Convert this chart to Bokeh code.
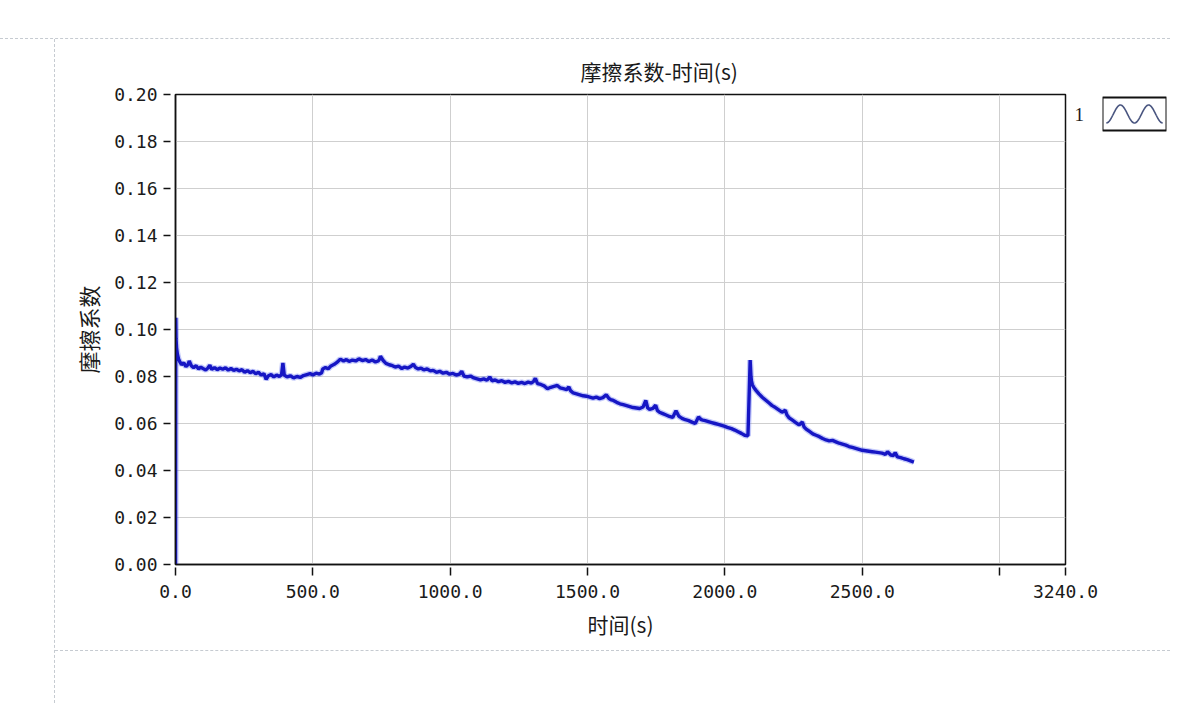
import numpy as np
from bokeh.plotting import figure
from bokeh.models import Range1d, FixedTicker, NumeralTickFormatter, LinearAxis, Spacer, BoxAnnotation
from bokeh.layouts import row, column
from bokeh.embed import file_html
from bokeh.resources import INLINE

# ---------------- data ----------------
time_s = [
    0, 1, 2, 4, 7, 11, 16, 22, 30, 38, 45, 50, 58, 66, 75, 84, 92, 100, 110, 118, 125, 132,
    142, 152, 162, 172, 182, 192, 202, 212, 222, 232, 242, 252, 262, 272, 282, 292, 302,
    312, 322, 330, 338, 348, 358, 368, 378, 386, 391, 396, 406, 418, 430, 442, 454, 466,
    478, 490, 500, 512, 524, 532, 536, 546, 556, 566, 578, 590, 600, 612, 622, 632, 644,
    656, 668, 680, 692, 704, 716, 728, 738, 742, 746, 756, 766, 778, 790, 800, 812, 824,
    834, 846, 858, 866, 874, 884, 894, 904, 916, 928, 938, 950, 962, 974, 986, 998, 1010,
    1022, 1034, 1042, 1050, 1062, 1074, 1086, 1098, 1110, 1122, 1134, 1144, 1152, 1164,
    1176, 1188, 1200, 1212, 1224, 1236, 1248, 1260, 1272, 1284, 1296, 1304, 1310, 1318,
    1330, 1342, 1354, 1366, 1378, 1390, 1400, 1412, 1424, 1432, 1438, 1448, 1460, 1472,
    1484, 1496, 1508, 1520, 1532, 1544, 1556, 1568, 1578, 1584, 1594, 1606, 1618, 1630,
    1642, 1654, 1666, 1678, 1690, 1702, 1712, 1719, 1726, 1738, 1748, 1754, 1762, 1774,
    1786, 1798, 1810, 1822, 1832, 1836, 1844, 1856, 1868, 1880, 1892, 1904, 1914, 1920,
    1928, 1940, 1952, 1964, 1976, 1988, 2000, 2012, 2024, 2036, 2048, 2060, 2072, 2084,
    2092, 2095, 2097, 2100, 2106, 2114, 2124, 2136, 2148, 2160, 2172, 2184, 2196, 2208,
    2220, 2226, 2234, 2246, 2258, 2270, 2282, 2288, 2296, 2308, 2320, 2332, 2344, 2356,
    2368, 2380, 2392, 2404, 2416, 2428, 2440, 2452, 2464, 2476, 2488, 2500, 2512, 2524,
    2536, 2548, 2560, 2572, 2580, 2584, 2592, 2604, 2614, 2620, 2628, 2640, 2652, 2664,
    2676, 2688,
]
friction = [
    0.0000, 0.1050, 0.0960, 0.0920, 0.0895, 0.0875, 0.0862, 0.0850, 0.0858, 0.0842, 0.0850,
    0.0866, 0.0845, 0.0838, 0.0846, 0.0832, 0.0840, 0.0834, 0.0828, 0.0836, 0.0848, 0.0830,
    0.0838, 0.0829, 0.0836, 0.0831, 0.0837, 0.0827, 0.0834, 0.0826, 0.0831, 0.0824, 0.0829,
    0.0818, 0.0825, 0.0816, 0.0822, 0.0812, 0.0818, 0.0806, 0.0812, 0.0788, 0.0803, 0.0808,
    0.0798, 0.0806, 0.0800, 0.0808, 0.0858, 0.0806, 0.0798, 0.0803, 0.0794, 0.0800, 0.0796,
    0.0804, 0.0808, 0.0812, 0.0807, 0.0814, 0.0810, 0.0816, 0.0832, 0.0838, 0.0833, 0.0845,
    0.0852, 0.0862, 0.0874, 0.0866, 0.0872, 0.0864, 0.0870, 0.0866, 0.0875, 0.0868, 0.0872,
    0.0864, 0.0870, 0.0862, 0.0866, 0.0872, 0.0886, 0.0868, 0.0856, 0.0850, 0.0846, 0.0840,
    0.0844, 0.0834, 0.0840, 0.0836, 0.0844, 0.0852, 0.0838, 0.0832, 0.0836, 0.0828, 0.0832,
    0.0824, 0.0826, 0.0818, 0.0822, 0.0814, 0.0818, 0.0810, 0.0813, 0.0806, 0.0810, 0.0822,
    0.0802, 0.0798, 0.0802, 0.0794, 0.0790, 0.0786, 0.0790, 0.0784, 0.0798, 0.0782, 0.0785,
    0.0778, 0.0782, 0.0775, 0.0779, 0.0773, 0.0777, 0.0771, 0.0775, 0.0770, 0.0776, 0.0772,
    0.0780, 0.0792, 0.0770, 0.0766, 0.0760, 0.0748, 0.0754, 0.0758, 0.0762, 0.0752, 0.0748,
    0.0744, 0.0756, 0.0740, 0.0730, 0.0726, 0.0722, 0.0718, 0.0716, 0.0712, 0.0708, 0.0712,
    0.0706, 0.0710, 0.0722, 0.0706, 0.0702, 0.0698, 0.0690, 0.0684, 0.0680, 0.0676, 0.0672,
    0.0668, 0.0666, 0.0664, 0.0670, 0.0698, 0.0666, 0.0660, 0.0664, 0.0678, 0.0656, 0.0648,
    0.0642, 0.0636, 0.0630, 0.0626, 0.0654, 0.0632, 0.0628, 0.0622, 0.0616, 0.0612, 0.0606,
    0.0600, 0.0628, 0.0616, 0.0614, 0.0612, 0.0608, 0.0604, 0.0600, 0.0596, 0.0592, 0.0588,
    0.0582, 0.0578, 0.0572, 0.0565, 0.0558, 0.0550, 0.0548, 0.0870, 0.0800, 0.0780, 0.0765,
    0.0752, 0.0740, 0.0726, 0.0712, 0.0700, 0.0688, 0.0676, 0.0668, 0.0658, 0.0648, 0.0656,
    0.0636, 0.0624, 0.0614, 0.0604, 0.0594, 0.0606, 0.0586, 0.0576, 0.0566, 0.0556, 0.0550,
    0.0544, 0.0536, 0.0530, 0.0526, 0.0528, 0.0522, 0.0516, 0.0512, 0.0508, 0.0502, 0.0498,
    0.0494, 0.0490, 0.0486, 0.0484, 0.0482, 0.0480, 0.0478, 0.0476, 0.0474, 0.0471, 0.0468,
    0.0480, 0.0466, 0.0464, 0.0476, 0.0458, 0.0455, 0.0450, 0.0446, 0.0441, 0.0436,
]

x_ticks = [0, 500, 1000, 1500, 2000, 2500, 3000, 3240]
y_ticks = [0.00, 0.02, 0.04, 0.06, 0.08, 0.10, 0.12, 0.14, 0.16, 0.18, 0.20]

title_text = "摩擦系数-时间(s)"
x_label = "时间(s)"
y_label = "摩擦系数"
legend_label = "1"
legend_label_level = 0.1915

mono = "DejaVu Sans Mono"
cjk = "Noto Sans CJK SC"
dash_css = "1px dashed #c6cbd1"

# ---------------- main figure ----------------
p = figure(width=1045, height=611, output_backend="svg", toolbar_location=None,
           x_range=Range1d(0, 3240), y_range=Range1d(0, 0.20),
           min_border_left=120, min_border_right=35, min_border_top=55, min_border_bottom=86)
p.border_fill_color = "white"
p.background_fill_color = "white"
p.outline_line_color = "#111111"
p.outline_line_width = 1.5

p.title.text = title_text
p.title.align = "left"
p.title.offset = 405
p.title.standoff = 18
p.title.text_font = cjk
p.title.text_font_size = "21px"
p.title.text_font_style = "normal"
p.title.text_color = "#1a1a1a"

p.xaxis.ticker = FixedTicker(ticks=x_ticks)
p.xaxis.formatter = NumeralTickFormatter(format="0.0")
p.xaxis.major_label_overrides = {3000: ""}
p.yaxis.ticker = FixedTicker(ticks=y_ticks)
p.yaxis.formatter = NumeralTickFormatter(format="0.00")

for ax in (p.xaxis[0], p.yaxis[0]):
    ax.axis_line_color = "#111111"
    ax.axis_line_width = 1.5
    ax.major_tick_line_color = "#111111"
    ax.major_tick_line_width = 1.5
    ax.minor_tick_line_color = None
    ax.major_label_text_font = mono
    ax.major_label_text_font_size = "18px"
    ax.major_label_text_color = "#1a1a1a"
    ax.axis_label_text_font = cjk
    ax.axis_label_text_font_style = "normal"
    ax.axis_label_text_color = "#1a1a1a"

p.xaxis.major_tick_in = -3
p.xaxis.major_tick_out = 11
p.xaxis.major_label_standoff = 9
p.xaxis.axis_label = x_label
p.xaxis.axis_label_text_font_size = "21px"
p.xaxis.axis_label_standoff = 8

p.yaxis.major_tick_in = -5
p.yaxis.major_tick_out = 12
p.yaxis.major_label_standoff = 6
p.yaxis.axis_label = y_label
p.yaxis.axis_label_text_font_size = "22px"
p.yaxis.axis_label_standoff = 7

# right-hand axis carrying the legend number "1"
rax = LinearAxis(ticker=FixedTicker(ticks=[legend_label_level]),
                 major_label_overrides={legend_label_level: legend_label},
                 axis_line_color=None, major_tick_line_color=None, minor_tick_line_color=None,
                 major_label_standoff=3, major_label_text_font="Liberation Serif",
                 major_label_text_font_size="19px", major_label_text_color="#1a1a1a")
p.add_layout(rax, "right")

p.xgrid.grid_line_color = "#cfcfcf"
p.ygrid.grid_line_color = "#cfcfcf"

# data line: soft halo + blue core
p.line(time_s, friction, line_color="#5566f0", line_width=6, line_alpha=0.35)
p.line(time_s, friction, line_color="#1616c4", line_width=3.4)

# ---------------- legend icon (boxed wave) ----------------
# same borders as the main figure so that the aligned frames agree; units = pixels from frame bottom
leg = figure(width=70, height=611, output_backend="svg", toolbar_location=None,
             x_range=Range1d(0, 1), y_range=Range1d(0, 470),
             min_border_left=2, min_border_right=4, min_border_top=55, min_border_bottom=86)
leg.axis.visible = False
leg.grid.visible = False
leg.title.visible = False
leg.border_fill_color = "white"
leg.background_fill_color = "white"
leg.outline_line_color = None
leg.add_layout(BoxAnnotation(left=0, right=1, bottom=434, top=467, fill_alpha=0,
                             line_color="#111111", line_alpha=1.0, line_width=2))
icon_x = np.linspace(0.06, 0.94, 80)
icon_y = 450.5 - 9 * np.cos((icon_x - 0.06) / 0.44 * 2 * np.pi)
leg.line(icon_x, icon_y, line_color="#4a5680", line_width=1.6)

# ---------------- page frame (dashed rules) ----------------
plot_block = column(row(p, leg), Spacer(width=1115, height=53, styles={"border-top": dash_css}),
                    styles={"border-left": dash_css})
body = row(Spacer(width=54, height=665), plot_block, styles={"border-top": dash_css})
page = column(Spacer(width=1170, height=38), body)

open("out.html", "w").write(file_html(page, INLINE))
